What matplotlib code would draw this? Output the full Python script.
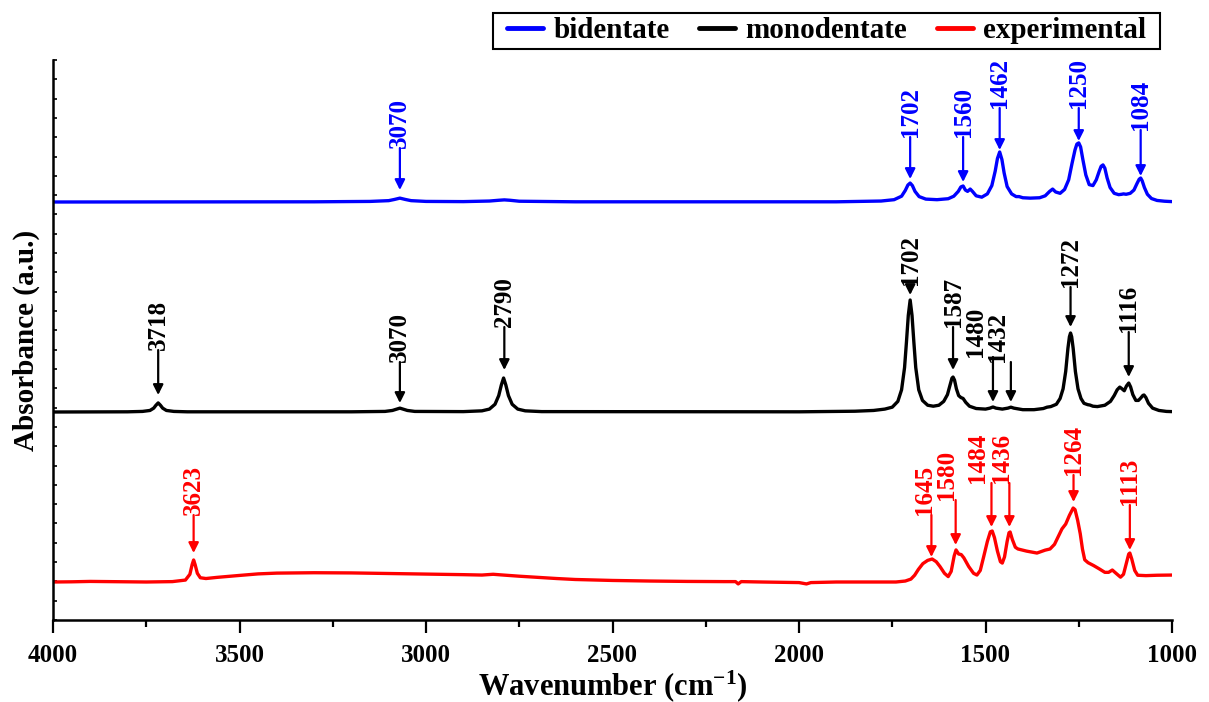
import matplotlib
matplotlib.use('Agg')
import matplotlib.pyplot as plt
from matplotlib.patches import Rectangle
import numpy as np

plt.rcParams['font.family'] = ['Liberation Serif', 'DejaVu Serif']
plt.rcParams['font.weight'] = 'bold'
plt.rcParams['mathtext.fontset'] = 'custom'
plt.rcParams['mathtext.rm'] = 'Liberation Serif:bold'
plt.rcParams['mathtext.bf'] = 'Liberation Serif:bold'
plt.rcParams['mathtext.default'] = 'bf'

# espectros (numero de onda, absorbancia relativa a linha de base)
bi_wn = [4000, 3300, 3150, 3100, 3085, 3070, 3055, 3040, 3000, 2900, 2830, 2805, 2790, 2775,
         2750, 2600, 1900, 1780, 1745, 1725, 1715, 1708, 1702, 1696, 1689, 1678, 1660, 1630,
         1600, 1585, 1573, 1566, 1560, 1554, 1548, 1541, 1535, 1525, 1510, 1495, 1483, 1474,
         1468, 1462, 1456, 1450, 1442, 1430, 1418, 1410, 1400, 1380, 1355, 1340, 1328, 1320,
         1312, 1300, 1288, 1277, 1268, 1260, 1255, 1250, 1245, 1239, 1231, 1222, 1212, 1203,
         1195, 1190, 1185, 1180, 1174, 1166, 1155, 1143, 1135, 1130, 1123, 1112, 1102, 1094,
         1088, 1084, 1080, 1074, 1066, 1055, 1040, 1020, 1000]
bi_ab = [0, 0.01, 0.03, 0.07, 0.13, 0.2, 0.13, 0.07, 0.03, 0.02, 0.05, 0.09, 0.11, 0.09,
         0.04, 0.01, 0.01, 0.05, 0.12, 0.3, 0.6, 0.88, 0.98, 0.85, 0.55, 0.28, 0.15, 0.12,
         0.17, 0.3, 0.55, 0.78, 0.83, 0.62, 0.55, 0.67, 0.55, 0.32, 0.25, 0.42, 0.85, 1.6,
         2.25, 2.59, 2.2, 1.5, 0.8, 0.42, 0.28, 0.28, 0.22, 0.2, 0.22, 0.32, 0.55, 0.67,
         0.52, 0.45, 0.65, 1.15, 2.0, 2.7, 3.0, 3.06, 2.85, 2.2, 1.4, 0.9, 0.85, 1.15,
         1.6, 1.85, 1.92, 1.75, 1.25, 0.75, 0.45, 0.38, 0.4, 0.42, 0.4, 0.45, 0.62, 0.95,
         1.18, 1.24, 1.1, 0.75, 0.4, 0.18, 0.08, 0.04, 0.02]

mono_wn = [4000, 3800, 3760, 3740, 3730, 3724, 3718, 3712, 3706, 3696, 3676, 3640, 3200, 3110,
           3090, 3080, 3070, 3060, 3050, 3030, 2900, 2850, 2830, 2815, 2805, 2798, 2792, 2786,
           2779, 2769, 2754, 2734, 2690, 2000, 1850, 1800, 1770, 1750, 1735, 1725, 1717, 1712,
           1707, 1702, 1697, 1692, 1687, 1679, 1669, 1655, 1640, 1625, 1612, 1602, 1595, 1590,
           1587, 1583, 1578, 1572, 1566, 1560, 1553, 1543, 1525, 1500, 1488, 1480, 1472, 1455,
           1440, 1432, 1424, 1400, 1370, 1345, 1335, 1325, 1310, 1300, 1292, 1285, 1279, 1275,
           1272, 1269, 1265, 1259, 1252, 1244, 1236, 1226, 1220, 1212, 1200, 1180, 1165, 1155,
           1147, 1140, 1134, 1128, 1122, 1116, 1111, 1105, 1097, 1090, 1084, 1078, 1075, 1070,
           1063, 1052, 1035, 1015, 1000]
mono_ab = [0, 0.01, 0.03, 0.08, 0.2, 0.35, 0.47, 0.35, 0.2, 0.08, 0.03, 0.01, 0.01, 0.03,
           0.08, 0.14, 0.2, 0.14, 0.08, 0.03, 0.02, 0.06, 0.15, 0.4, 0.85, 1.4, 1.76, 1.4,
           0.85, 0.4, 0.15, 0.06, 0.02, 0.01, 0.04, 0.08, 0.15, 0.25, 0.55, 1.15, 2.3, 3.6,
           5.0, 5.8, 5.0, 3.6, 2.3, 1.15, 0.6, 0.35, 0.3, 0.35, 0.55, 0.9, 1.4, 1.75,
           1.81, 1.65, 1.2, 0.85, 0.75, 0.7, 0.5, 0.3, 0.18, 0.15, 0.2, 0.26, 0.2, 0.15,
           0.2, 0.25, 0.2, 0.12, 0.12, 0.18, 0.25, 0.28, 0.4, 0.7, 1.2, 2.1, 3.3, 3.9,
           4.09, 3.9, 3.3, 2.1, 1.2, 0.7, 0.45, 0.38, 0.36, 0.3, 0.28, 0.35, 0.55, 0.85,
           1.15, 1.29, 1.2, 1.1, 1.35, 1.5, 1.3, 0.9, 0.6, 0.6, 0.72, 0.86, 0.88, 0.75,
           0.45, 0.2, 0.08, 0.03, 0.02]

exp_wn = [4000, 3950, 3900, 3850, 3750, 3680, 3645, 3633, 3627, 3623, 3619, 3613, 3605, 3590,
          3560, 3500, 3450, 3400, 3300, 3200, 3100, 3000, 2900, 2850, 2820, 2800, 2750, 2700,
          2650, 2600, 2500, 2400, 2300, 2200, 2170, 2163, 2155, 2100, 2000, 1980, 1968, 1900,
          1800, 1740, 1715, 1700, 1690, 1680, 1668, 1655, 1643, 1632, 1622, 1610, 1600, 1592,
          1584, 1579, 1572, 1565, 1558, 1545, 1532, 1523, 1514, 1505, 1495, 1487, 1482, 1476,
          1468, 1460, 1455, 1449, 1442, 1437, 1434, 1428, 1420, 1413, 1390, 1362, 1340, 1327,
          1315, 1305, 1295, 1285, 1275, 1265, 1260, 1253, 1246, 1240, 1234, 1225, 1210, 1195,
          1180, 1170, 1160, 1150, 1138, 1130, 1122, 1116, 1113, 1108, 1100, 1092, 1070, 1040,
          1000]
exp_ab = [0, 0.01, 0.03, 0.02, 0, 0.02, 0.1, 0.4, 0.9, 1.14, 0.9, 0.45, 0.22, 0.18,
          0.24, 0.34, 0.42, 0.46, 0.48, 0.47, 0.44, 0.41, 0.38, 0.36, 0.4, 0.37, 0.3, 0.24,
          0.18, 0.13, 0.08, 0.05, 0.03, 0.02, 0.02, -0.1, 0.02, 0.0, -0.03, -0.1, -0.03, 0,
          0, 0, 0.05, 0.15, 0.35, 0.65, 0.95, 1.12, 1.19, 1.05, 0.8, 0.45, 0.28, 0.55,
          1.35, 1.66, 1.45, 1.42, 1.25, 0.8, 0.45, 0.36, 0.6, 1.3, 2.1, 2.6, 2.64, 2.3,
          1.6, 1.05, 0.98, 1.3, 2.1, 2.55, 2.59, 2.2, 1.8, 1.71, 1.6, 1.5, 1.65, 1.71,
          1.95, 2.35, 2.75, 3.0, 3.45, 3.83, 3.75, 3.2, 2.5, 1.7, 1.15, 1.0, 0.85, 0.68,
          0.5, 0.5, 0.62, 0.45, 0.25, 0.4, 1.0, 1.45, 1.5, 1.2, 0.6, 0.35, 0.33, 0.35,
          0.36]

# picos marcados
bi_peaks = ['3070', '1702', '1560', '1462', '1250', '1084']
mono_peaks = ['3718', '3070', '2790', '1702', '1587', '1480', '1432', '1272', '1116']
exp_peaks = ['3623', '1645', '1580', '1484', '1436', '1264', '1113']

# layout (pixels): deslocamentos das curvas, base do texto, ponta da seta, deslocamento x do texto
PX = 19.31
off = {'bi': (620 - 202) / PX, 'mono': (620 - 412) / PX, 'exp': (620 - 582) / PX}
bi_lay = [(148, 190, 0), (137, 179, 0), (137, 182, 0), (108, 150, 0), (108, 141, 0), (130, 176, 0)]
mono_lay = [(350, 395, 0), (362, 403, 0), (327, 370, 0), (285, 295, 0), (327, 370, 0),
            (357, 402, -17), (362, 402, -13), (287, 327, 0), (332, 377, 0)]
exp_lay = [(515, 553, 0), (515, 557, -7), (500, 545, -9), (483, 527, -14), (483, 527, -8),
           (475, 502, 0), (505, 550, 0)]

fig = plt.figure(figsize=(12.09, 7.02), dpi=100)
ax = fig.add_axes([53 / 1209, (702 - 620) / 702, (1172 - 53) / 1209, 560 / 702])

series = [('bidentate', 'blue', bi_wn, bi_ab, 'bi', bi_peaks, bi_lay),
          ('monodentate', 'black', mono_wn, mono_ab, 'mono', mono_peaks, mono_lay),
          ('experimental', 'red', exp_wn, exp_ab, 'exp', exp_peaks, exp_lay)]

for nome, cor, wn, ab, k, picos, lay in series:
    ax.plot(wn, np.array(ab) + off[k], color=cor, lw=2.4, label=nome,
            solid_joinstyle='round', solid_capstyle='round')
    for txt, (yb, yt, dx) in zip(picos, lay):
        x = float(txt)
        xt = x - dx / 0.373
        ax.annotate('', xy=(x, (620 - yt) / PX), xytext=(x, (620 - yb) / PX),
                    arrowprops=dict(arrowstyle='-|>,head_length=0.6,head_width=0.3',
                                    color=cor, lw=1.6, shrinkA=0, shrinkB=0))
        ax.text(xt, (620 - yb) / PX, txt, rotation=90, ha='center', va='bottom',
                color=cor, fontsize=18, fontweight='bold')

ax.set_xlim(4000, 1000)
ax.set_ylim(0, 560 / PX)
ax.set_xticks(np.arange(4000, 999, -500))
ax.set_xticks(np.arange(3750, 1000, -500), minor=True)
ax.set_yticks(np.arange(0, 560 / PX, 1))
ax.set_yticklabels([])
ax.tick_params(axis='x', which='major', direction='out', length=9, width=1.6, labelsize=18, pad=8)
ax.tick_params(axis='x', which='minor', direction='out', length=5, width=1.6)
ax.tick_params(axis='y', direction='in', length=3, width=1.2)
for s in ['top', 'right']:
    ax.spines[s].set_visible(False)
for s in ['left', 'bottom']:
    ax.spines[s].set_linewidth(1.8)

ax.set_xlabel(r'Wavenumber (cm$^{-1}$)', fontsize=22, fontweight='bold', labelpad=1)
ax.set_ylabel('Absorbance (a.u.)', fontsize=21, fontweight='bold', labelpad=6)

# legenda sem moldura + moldura desenhada a parte
leg = fig.legend(loc='center', bbox_to_anchor=(826.5 / 1209, 1 - 31 / 702), ncol=3,
                 fontsize=21, frameon=False, borderaxespad=0, borderpad=0,
                 handlelength=1.25, columnspacing=1.0, handletextpad=0.35)
for t in leg.get_texts():
    t.set_fontweight('bold')
for h in leg.get_lines():
    h.set_linewidth(3.5)
fig.patches.append(Rectangle((493 / 1209, 1 - 49 / 702), 667 / 1209, 36 / 702,
                             transform=fig.transFigure, fill=False, edgecolor='black', lw=1.5))

fig.savefig('out.png', dpi=100)
